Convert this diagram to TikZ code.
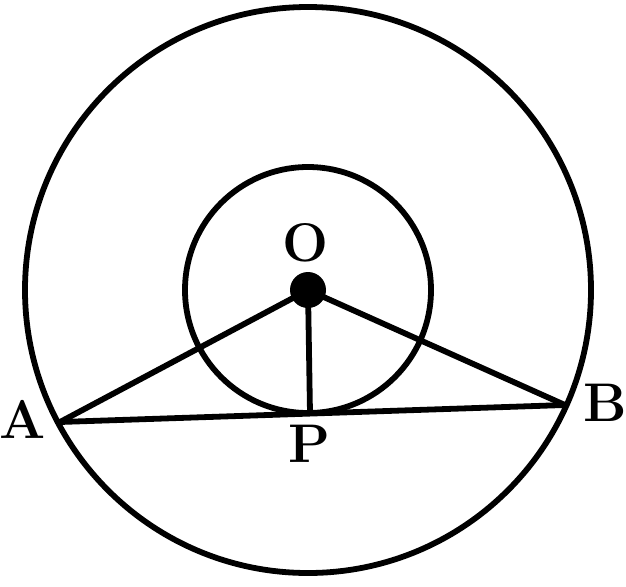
\documentclass[tikz,border=0pt]{standalone}
\usetikzlibrary{positioning}
\begin{document}
\begin{tikzpicture}[x=0.02cm,y=-0.02cm,line width=3.3pt,
	lbl/.style={font=\fontsize{31}{36}\selectfont\bfseries, inner sep=0pt}]
	\useasboundingbox (0,0) rectangle (626,586);
	\coordinate (O) at (308,290);
	\coordinate (A) at (60,422);
	\coordinate (B) at (565,405);
	\coordinate (P) at (310,413);
	\draw (O) circle(283);
	\draw (O) circle(123);
	\draw (A) -- (B);
	\draw (A) -- (O) -- (B);
	\draw (O) -- (P);
	\fill (O) circle(18);
	\node[lbl] (labO) at (306,243) {O};
	\node[lbl] (labA) at (23,419) {A};
	\node[lbl] (labB) at (605,403) {B};
	\node[lbl] (labP) at (309,444) {P};
\end{tikzpicture}
\end{document}
